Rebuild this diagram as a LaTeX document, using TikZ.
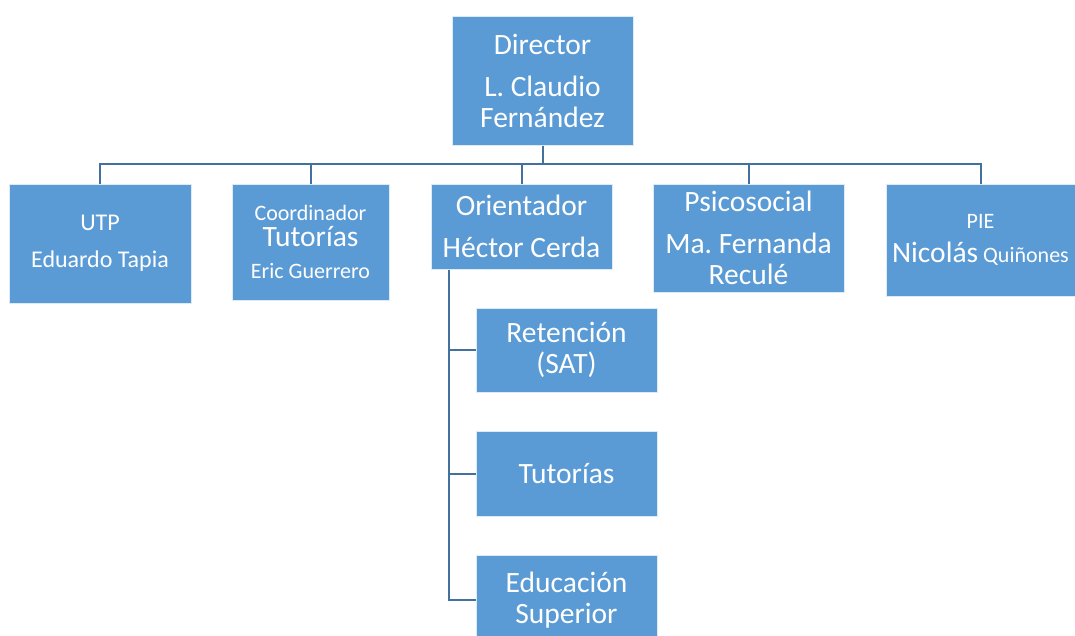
\documentclass[tikz,border=0pt]{standalone}
\usepackage{fontspec}
\setmainfont{Carlito}
\frenchspacing
\definecolor{boxfill}{HTML}{5B9BD5}
\definecolor{boxedge}{HTML}{DDEBF7}
\definecolor{linkblue}{HTML}{41719C}
\newcommand{\fbig}{\fontsize{29.5}{31}\selectfont}
\newcommand{\fmid}{\fontsize{24}{29}\selectfont}
\newcommand{\fsmall}{\fontsize{22}{26}\selectfont}
\begin{document}
\begin{tikzpicture}[x=1pt,y=-1pt,
    unit/.style={draw=boxedge,line width=1pt,fill=boxfill,text=white,align=flush center,inner sep=0pt,font=\fbig},
    link/.style={draw=linkblue,line width=2pt}]
    \useasboundingbox (0,0) rectangle (1075,635);
    % top
    \node[unit,minimum width=181pt,minimum height=129pt,text width=175pt] (dir) at (542.5,80.5) {Director\\[11pt] L. Claudio\\ Fernández};
    % second row
    \node[unit,minimum width=182pt,minimum height=119pt,text width=176pt,font=\fmid] (utp) at (100,243.5) {UTP\\[8pt] Eduardo Tapia};
    \node[unit,minimum width=157pt,minimum height=116pt,text width=151pt,font=\fsmall] (coord) at (310.5,242) {Coordinador\\ {\fbig Tutorías}\\[6pt] Eric Guerrero};
    \node[unit,minimum width=181pt,minimum height=85pt,text width=175pt] (orient) at (521.5,226.5) {Orientador\\[11pt] Héctor Cerda};
    \node[unit,minimum width=191pt,minimum height=108pt,text width=185pt] (psico) at (748.5,238) {Psicosocial\\[11pt] Ma. Fernanda\\ Reculé};
    \node[unit,minimum width=189pt,minimum height=112pt,text width=189pt,font=\fsmall] (pie) at (980.5,240) {PIE\\[8pt] {\fbig Nicolás} Quiñones};
    % under Orientador
    \node[unit,minimum width=181pt,minimum height=84pt,text width=175pt] (ret) at (566.5,350) {Retención\\ (SAT)};
    \node[unit,minimum width=181pt,minimum height=85pt,text width=175pt] (tut) at (566.5,473.5) {Tutorías};
    \node[unit,minimum width=181pt,minimum height=90pt,text width=175pt] (edu) at (566.5,600) {Educación\\ Superior};
    % links
    \coordinate (bus) at (542.5,164);
    \coordinate (spine) at (449,0);
    \draw[link] (dir.south) -- (bus);
    \draw[link] (utp.north) |- (bus) -| (pie.north);
    \foreach \n in {coord,orient,psico}
        \draw[link] (\n.north) -- (\n.north |- bus);
    \draw[link] (spine |- orient.south) |- (edu.west);
    \foreach \n in {ret,tut}
        \draw[link] (spine |- \n.west) -- (\n.west);
\end{tikzpicture}
\end{document}
